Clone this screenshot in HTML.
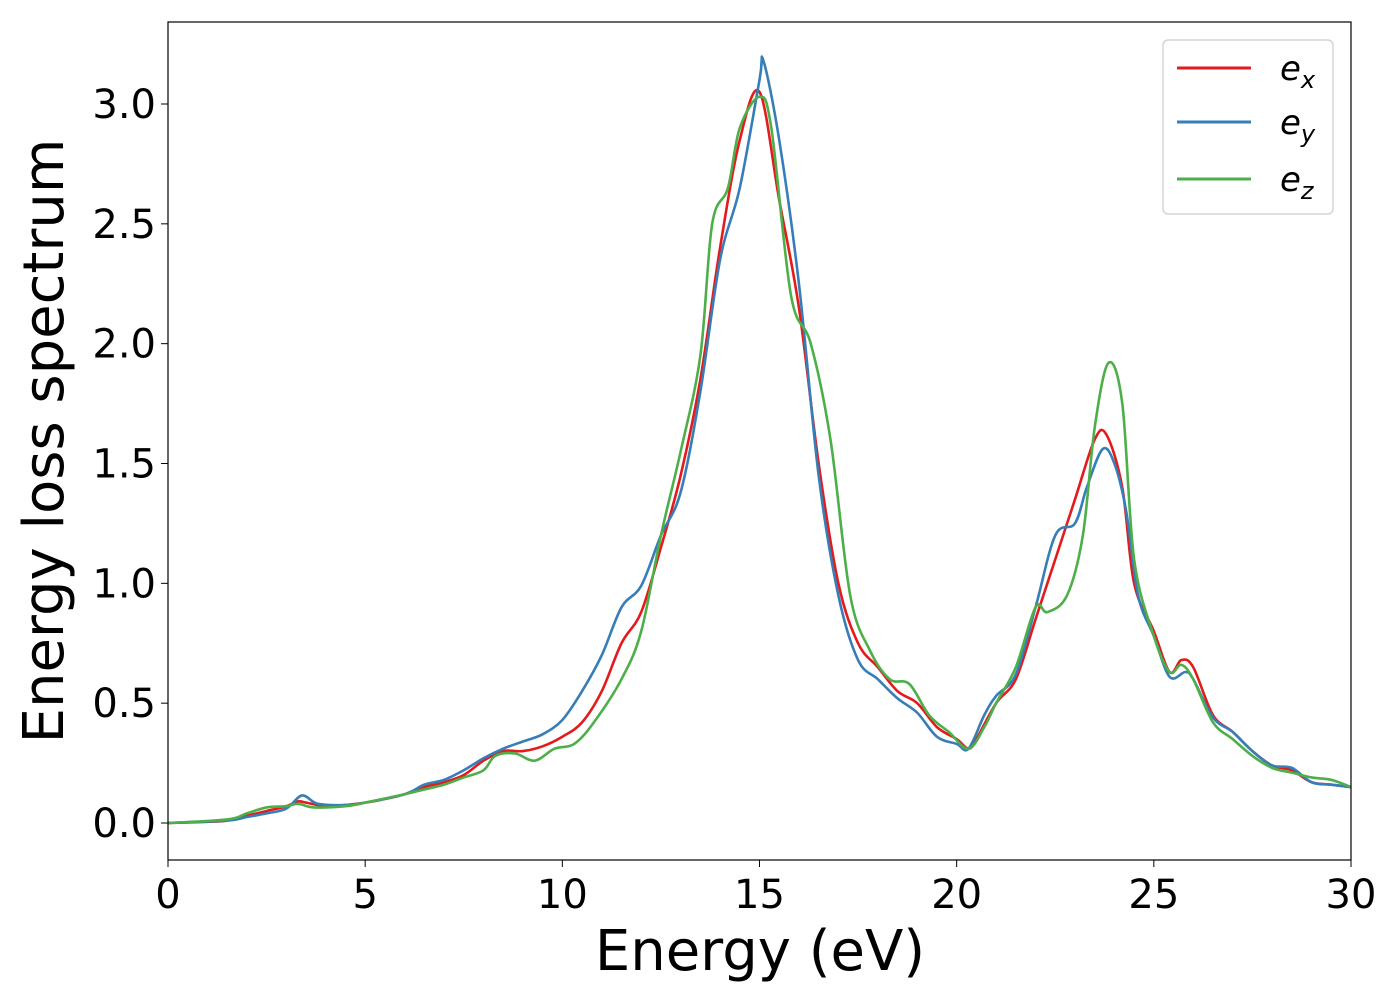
<!DOCTYPE html>
<html><head><meta charset="utf-8"><style>
body{margin:0;background:#fff;}
svg text{font-family:"DejaVu Sans","Liberation Sans",sans-serif;fill:#000;}
</style></head><body>
<svg id="chart" width="1400" height="1000" xmlns="http://www.w3.org/2000/svg">
<rect x="0" y="0" width="1400" height="1000" fill="#fff"/>
<g id="series"></g>
<rect x="168" y="22" width="1183" height="838" fill="none" stroke="#000" stroke-width="1.2"/>
<g id="xticks"></g>
<g id="yticks"></g>
<text x="760" y="970" font-size="56" text-anchor="middle">Energy (eV)</text>
<text transform="translate(63,441) rotate(-90)" font-size="56" text-anchor="middle">Energy loss spectrum</text>
<g>
<rect x="1163" y="40" width="170" height="174" rx="5" fill="#fff" stroke="#ccc" stroke-width="1.2"/>
<line x1="1177" y1="68" x2="1251" y2="68" stroke="#e41a1c" stroke-width="3"/>
<text x="1280" y="80" font-size="34" font-style="italic">e<tspan font-size="24" dy="8">x</tspan></text>
<line x1="1177" y1="122" x2="1251" y2="122" stroke="#377eb8" stroke-width="3"/>
<text x="1280" y="134" font-size="34" font-style="italic">e<tspan font-size="24" dy="8">y</tspan></text>
<line x1="1177" y1="179" x2="1251" y2="179" stroke="#4daf4a" stroke-width="3"/>
<text x="1280" y="191" font-size="34" font-style="italic">e<tspan font-size="24" dy="8">z</tspan></text>
</g>
</svg>
<script>
const xTicks=[0,5,10,15,20,25,30];
const yTicks=[0.0,0.5,1.0,1.5,2.0,2.5,3.0];
const exE=[0,1,1.5,2,2.5,3,3.3,3.5,4,4.5,5,5.5,6,6.5,7,7.5,8,8.5,9,9.5,10,10.5,11,11.5,12,12.5,13,13.5,14,14.5,15,15.5,16,16.5,17,17.5,18,18.5,19,19.5,20,20.3,20.5,21,21.5,22,22.5,23,23.5,23.8,24.2,24.5,25,25.4,25.7,26,26.5,27,27.5,28,28.5,29,29.5,30];
const exV=[0,0.005,0.01,0.03,0.05,0.07,0.09,0.085,0.07,0.075,0.085,0.1,0.12,0.15,0.17,0.2,0.26,0.3,0.3,0.32,0.36,0.42,0.55,0.75,0.88,1.15,1.45,1.85,2.4,2.85,3.05,2.6,2.15,1.5,1.0,0.75,0.65,0.55,0.5,0.4,0.35,0.31,0.35,0.5,0.6,0.85,1.1,1.35,1.6,1.62,1.4,1.0,0.8,0.63,0.68,0.65,0.45,0.38,0.3,0.24,0.22,0.17,0.16,0.15];
const eyE=[0,1.5,2,2.5,3,3.4,3.8,4.5,5,6,6.5,7,7.5,8,8.5,9,9.5,10,10.5,11,11.5,12,12.5,13,13.5,14,14.5,15,15.1,15.5,16,16.5,17,17.5,18,18.5,19,19.5,20,20.3,20.7,21,21.5,22,22.5,23,23.3,23.7,24,24.3,24.6,25,25.4,25.8,26,26.5,27,27.5,28,28.5,29,29.5,30];
const eyV=[0,0.01,0.025,0.04,0.06,0.115,0.08,0.075,0.085,0.12,0.16,0.18,0.22,0.27,0.31,0.34,0.37,0.43,0.55,0.7,0.9,0.99,1.2,1.38,1.8,2.35,2.65,3.1,3.18,2.85,2.25,1.45,0.95,0.68,0.6,0.52,0.46,0.36,0.33,0.31,0.45,0.53,0.62,0.9,1.2,1.25,1.4,1.56,1.5,1.3,0.95,0.78,0.61,0.63,0.6,0.44,0.38,0.3,0.24,0.23,0.17,0.16,0.15];
const ezE=[0,1.5,2,2.5,3,3.3,3.7,4.5,5,6,6.5,7,7.5,8,8.3,8.8,9.3,9.8,10.3,10.8,11.5,12,12.5,13,13.5,13.8,14.2,14.5,15,15.3,15.8,16.3,16.8,17.3,17.8,18.3,18.8,19.3,19.8,20.3,20.7,21,21.5,22,22.3,22.8,23.2,23.5,23.85,24.2,24.5,25,25.4,25.7,26,26.5,27,27.5,28,28.5,29,29.5,30];
const ezV=[0,0.015,0.04,0.065,0.07,0.08,0.065,0.07,0.085,0.12,0.14,0.16,0.19,0.22,0.28,0.29,0.26,0.31,0.33,0.42,0.6,0.8,1.2,1.55,1.95,2.5,2.65,2.9,3.03,2.9,2.2,2.0,1.6,0.95,0.72,0.6,0.58,0.45,0.38,0.31,0.4,0.5,0.65,0.9,0.88,0.95,1.2,1.65,1.92,1.75,1.1,0.78,0.63,0.66,0.6,0.42,0.35,0.28,0.23,0.21,0.19,0.18,0.15];
const X0=168,X1=1351,Y0=823,Y3=104;
const sx=v=>X0+(X1-X0)*v/30;
const sy=v=>Y0-(Y0-Y3)*v/3;
const NS="http://www.w3.org/2000/svg";
function path(xs,ys){
  const p=xs.map((x,i)=>[sx(x),sy(ys[i])]);
  let d="M"+p[0][0]+","+p[0][1];
  for(let i=0;i<p.length-1;i++){
    const a=p[Math.max(0,i-1)],b=p[i],c=p[i+1],e=p[Math.min(p.length-1,i+2)];
    const c1=[b[0]+(c[0]-a[0])/6,b[1]+(c[1]-a[1])/6];
    const c2=[c[0]-(e[0]-b[0])/6,c[1]-(e[1]-b[1])/6];
    d+=" C"+c1+" "+c2+" "+c;
  }
  return d;
}
const g=document.getElementById("series");
[[exE,exV,"#e41a1c","series-ex"],[eyE,eyV,"#377eb8","series-ey"],[ezE,ezV,"#4daf4a","series-ez"]].forEach(s=>{
  const el=document.createElementNS(NS,"path");
  el.setAttribute("d",path(s[0],s[1]));
  el.setAttribute("fill","none");el.setAttribute("stroke",s[2]);el.setAttribute("stroke-width","2.6");
  
  
  g.appendChild(el);
});
const gx=document.getElementById("xticks");
xTicks.forEach(t=>{
  const l=document.createElementNS(NS,"line");
  l.setAttribute("x1",sx(t));l.setAttribute("x2",sx(t));l.setAttribute("y1",860);l.setAttribute("y2",867);l.setAttribute("stroke","#000");
  
  
  gx.appendChild(l);
  const tx=document.createElementNS(NS,"text");
  tx.setAttribute("x",sx(t));tx.setAttribute("y",908);tx.setAttribute("font-size","40");tx.setAttribute("text-anchor","middle");
  tx.textContent=t;
  
  
  gx.appendChild(tx);
});
const gy=document.getElementById("yticks");
yTicks.forEach(t=>{
  const l=document.createElementNS(NS,"line");
  l.setAttribute("x1",161);l.setAttribute("x2",168);l.setAttribute("y1",sy(t));l.setAttribute("y2",sy(t));l.setAttribute("stroke","#000");
  
  
  gy.appendChild(l);
  const tx=document.createElementNS(NS,"text");
  tx.setAttribute("x",156);tx.setAttribute("y",sy(t)+14);tx.setAttribute("font-size","40");tx.setAttribute("text-anchor","end");
  tx.textContent=t.toFixed(1);
  
  
  gy.appendChild(tx);
});
</script>
</body></html>
